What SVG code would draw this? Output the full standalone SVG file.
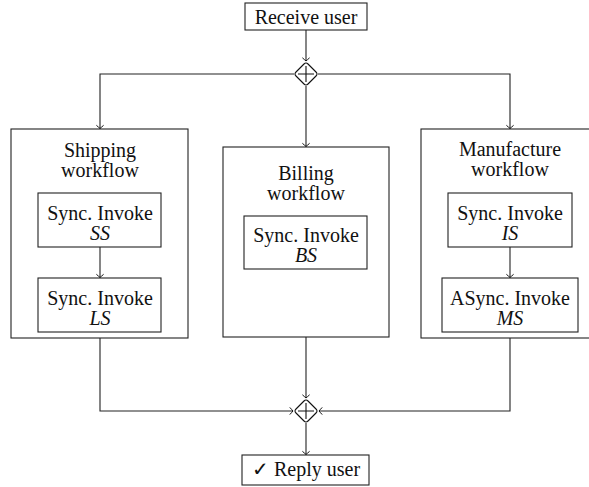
<svg xmlns="http://www.w3.org/2000/svg" width="589" height="487" viewBox="0 0 589 487">
  <style>
    .box { fill: #fff; stroke: #222; stroke-width: 1.1; }
    .wire { fill: none; stroke: #222; stroke-width: 1.1; }
    .gw { fill: #fff; stroke: #111; stroke-width: 1.1; }
    .lbl { font-size: 20px; fill: #111; text-anchor: middle; }
    .it { font-style: italic; }
  </style>
  <defs>
    <marker id="arr" markerUnits="userSpaceOnUse" markerWidth="10" markerHeight="10" viewBox="-5 -5 10 10" refX="0" refY="0" orient="auto">
      <path d="M -3.2 -3.6 Q -0.8 -0.9 0 0 Q -0.8 0.9 -3.2 3.6" fill="none" stroke="#111" stroke-width="1"/>
    </marker>
    <g id="plusgw">
      <path class="gw" d="M -2 -10 Q 0 -12 2 -10 L 10 -2 Q 12 0 10 2 L 2 10 Q 0 12 -2 10 L -10 2 Q -12 0 -10 -2 Z"/>
      <path d="M 0 -8 V 8 M -8 0 H 8" stroke="#111" stroke-width="1.1"/>
    </g>
  </defs>

  <g font-family="'Liberation Serif', serif" style="font-family: 'Liberation Serif', serif">
    <g id="receive">
      <rect class="box" x="245" y="3" width="122" height="27"/>
      <text class="lbl" x="306" y="24">Receive user</text>
    </g>

    <g id="split">
      <use href="#plusgw" x="306" y="74"/>
    </g>

    <g id="shipping">
      <rect class="box" x="11" y="129" width="177" height="209"/>
      <text class="lbl" x="100" y="157">Shipping</text>
      <text class="lbl" x="100" y="177">workflow</text>
    </g>
    <g id="invoke-ss">
      <rect class="box" x="38" y="193" width="123" height="54"/>
      <text class="lbl" x="100" y="220">Sync. Invoke</text>
      <text class="lbl it" x="100" y="240">SS</text>
    </g>
    <g id="invoke-ls">
      <rect class="box" x="38" y="278" width="123" height="54"/>
      <text class="lbl" x="100" y="305">Sync. Invoke</text>
      <text class="lbl it" x="100" y="325">LS</text>
    </g>

    <g id="billing">
      <rect class="box" x="223" y="147" width="166" height="190"/>
      <text class="lbl" x="306" y="180">Billing</text>
      <text class="lbl" x="306" y="200">workflow</text>
    </g>
    <g id="invoke-bs">
      <rect class="box" x="244" y="216" width="123" height="53"/>
      <text class="lbl" x="306" y="242">Sync. Invoke</text>
      <text class="lbl it" x="306" y="262">BS</text>
    </g>

    <g id="manufacture">
      <rect class="box" x="421" y="129" width="177" height="209"/>
      <text class="lbl" x="510" y="156">Manufacture</text>
      <text class="lbl" x="510" y="176">workflow</text>
    </g>
    <g id="invoke-is">
      <rect class="box" x="448" y="193" width="124" height="54"/>
      <text class="lbl" x="510" y="220">Sync. Invoke</text>
      <text class="lbl it" x="510" y="240">IS</text>
    </g>
    <g id="invoke-ms">
      <rect class="box" x="442" y="278" width="136" height="54"/>
      <text class="lbl" x="510" y="305">ASync. Invoke</text>
      <text class="lbl it" x="510" y="325">MS</text>
    </g>

    <g id="join">
      <use href="#plusgw" x="306" y="411"/>
    </g>

    <g id="reply">
      <rect class="box" x="242" y="455" width="127" height="30"/>
      <text class="lbl" x="306" y="476">✓ Reply user</text>
    </g>
  </g>

  <!-- connectors, drawn over the container boxes -->
  <g id="connectors">
    <path class="wire" d="M 306 30 V 61" marker-end="url(#arr)"/>
    <path class="wire" d="M 294 74 H 100 V 128.5" marker-end="url(#arr)"/>
    <path class="wire" d="M 306 86 V 146.5" marker-end="url(#arr)"/>
    <path class="wire" d="M 318 74 H 510 V 128.5" marker-end="url(#arr)"/>
    <path class="wire" d="M 100 247 V 277.5" marker-end="url(#arr)"/>
    <path class="wire" d="M 510 247 V 277.5" marker-end="url(#arr)"/>
    <path class="wire" d="M 100 338 V 411 H 293" marker-end="url(#arr)"/>
    <path class="wire" d="M 306 337 V 398" marker-end="url(#arr)"/>
    <path class="wire" d="M 510 338 V 411 H 319" marker-end="url(#arr)"/>
    <path class="wire" d="M 306 423 V 454.5" marker-end="url(#arr)"/>
  </g>
</svg>
